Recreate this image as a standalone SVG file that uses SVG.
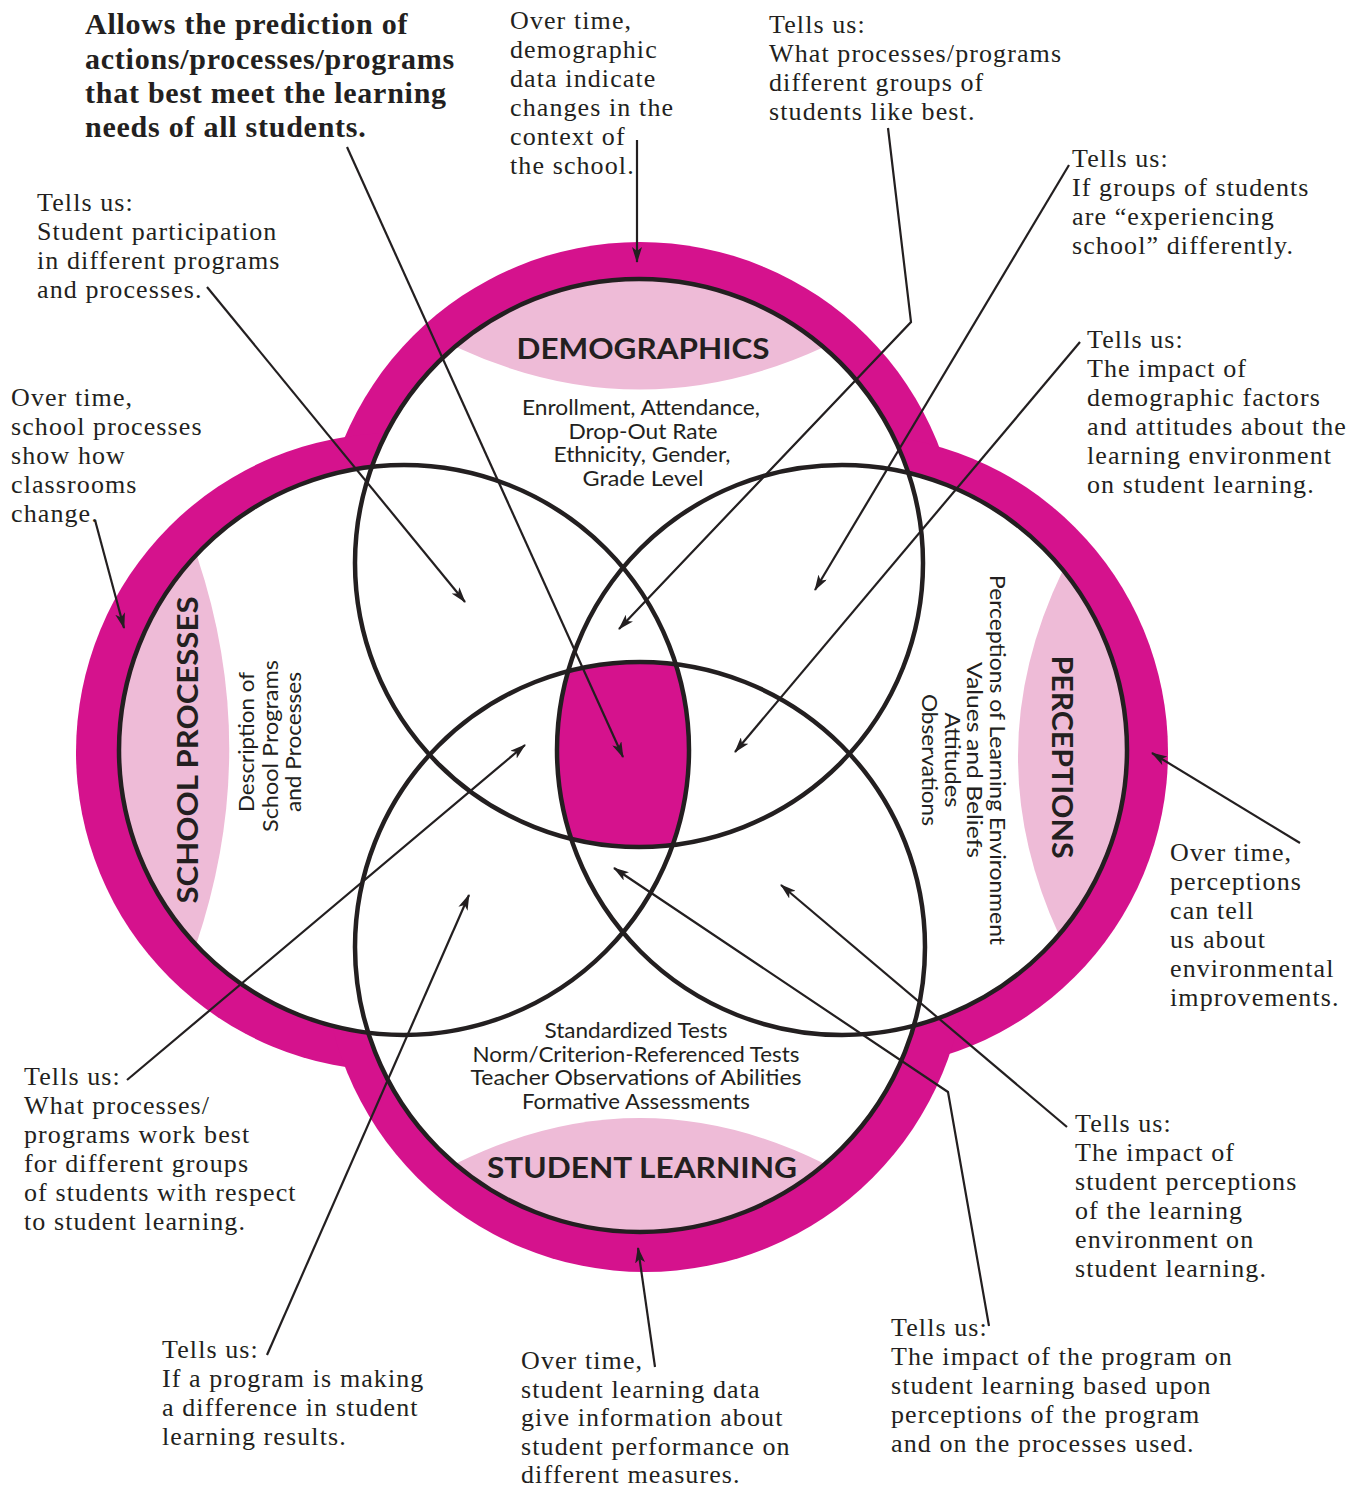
<svg xmlns="http://www.w3.org/2000/svg" width="1370" height="1490" viewBox="0 0 1370 1490">
<style>
.band{fill:#D5128D}
.inner{fill:#FFFFFF}
.lens{fill:#EEBBD7}
.ring{fill:none;stroke:#231F20;stroke-width:4.5}
.core{fill:#D5128D}
.note{font-family:"Liberation Serif","Times New Roman",serif;font-size:26px;letter-spacing:1.1px;fill:#231F20}
.title{font-family:"Liberation Serif","Times New Roman",serif;font-size:30px;font-weight:bold;letter-spacing:0.75px;fill:#231F20}
.head{font-family:Lato,"Liberation Sans",sans-serif;font-size:29px;font-weight:bold;fill:#231F20;text-anchor:middle}
.sub{font-family:Lato,"Liberation Sans",sans-serif;font-size:21px;fill:#231F20;text-anchor:middle}
.conn{fill:none;stroke:#231F20;stroke-width:2.2;marker-end:url(#ah)}
</style>
<defs>
<marker id="ah" viewBox="0 0 16 10" refX="15" refY="5" markerWidth="16" markerHeight="10" orient="auto" markerUnits="userSpaceOnUse">
<path d="M0,0 L16,5 L0,10 L4,5 Z" fill="#231F20"/>
</marker>
<clipPath id="cD"><circle cx="639" cy="563" r="284"/></clipPath>
<clipPath id="cS"><circle cx="404" cy="750" r="285"/></clipPath>
<clipPath id="cP"><circle cx="842" cy="750" r="285"/></clipPath>
</defs>
<rect width="1370" height="1490" fill="#FFFFFF"/>

<g id="outer-band">
<circle class="band" cx="640" cy="563" r="321"/>
<circle class="band" cx="395" cy="752" r="319"/>
<circle class="band" cx="850" cy="752" r="318"/>
<circle class="band" cx="645" cy="950" r="322"/>
<circle class="inner" cx="639" cy="563" r="284"/>
<circle class="inner" cx="404" cy="750" r="285"/>
<circle class="inner" cx="842" cy="750" r="285"/>
<circle class="inner" cx="640" cy="947" r="285"/>
</g>

<g id="demographics">
<path class="lens" d="M456,347 A284,284 0 0 1 824,347 Q640,432 456,347 Z"/>
<text class="head" x="643" y="359" textLength="253" lengthAdjust="spacingAndGlyphs">DEMOGRAPHICS</text>
<text class="sub" x="641" y="415" textLength="238" lengthAdjust="spacingAndGlyphs">Enrollment, Attendance,</text>
<text class="sub" x="643" y="439" textLength="149" lengthAdjust="spacingAndGlyphs">Drop-Out Rate</text>
<text class="sub" x="642" y="462" textLength="177" lengthAdjust="spacingAndGlyphs">Ethnicity, Gender,</text>
<text class="sub" x="643" y="486" textLength="121" lengthAdjust="spacingAndGlyphs">Grade Level</text>
</g>

<g id="school-processes">
<path class="lens" d="M197,556 A285,285 0 0 0 196,945 Q262,750 197,556 Z"/>
<text class="head" transform="translate(198,750) rotate(-90)" x="0" y="0" textLength="307" lengthAdjust="spacingAndGlyphs">SCHOOL PROCESSES</text>
<text class="sub" transform="translate(254,742) rotate(-90)" x="0" y="0" textLength="140" lengthAdjust="spacingAndGlyphs">Description of</text>
<text class="sub" transform="translate(278,746) rotate(-90)" x="0" y="0" textLength="172" lengthAdjust="spacingAndGlyphs">School Programs</text>
<text class="sub" transform="translate(301,742) rotate(-90)" x="0" y="0" textLength="140" lengthAdjust="spacingAndGlyphs">and Processes</text>
</g>

<g id="perceptions">
<path class="lens" d="M1063,570 A285,285 0 0 1 1059,935 Q975,752 1063,570 Z"/>
<text class="head" transform="translate(1052,757) rotate(90)" x="0" y="0" textLength="203" lengthAdjust="spacingAndGlyphs">PERCEPTIONS</text>
<text class="sub" transform="translate(990,760) rotate(90)" x="0" y="0" textLength="370" lengthAdjust="spacingAndGlyphs">Perceptions of Learning Environment</text>
<text class="sub" transform="translate(967,760) rotate(90)" x="0" y="0" textLength="196" lengthAdjust="spacingAndGlyphs">Values and Beliefs</text>
<text class="sub" transform="translate(945,760) rotate(90)" x="0" y="0" textLength="95" lengthAdjust="spacingAndGlyphs">Attitudes</text>
<text class="sub" transform="translate(922,760) rotate(90)" x="0" y="0" textLength="132" lengthAdjust="spacingAndGlyphs">Observations</text>
</g>

<g id="student-learning">
<path class="lens" d="M455,1164 A285,285 0 0 0 825,1164 Q640,1072 455,1164 Z"/>
<text class="head" x="642" y="1178" textLength="310" lengthAdjust="spacingAndGlyphs">STUDENT LEARNING</text>
<text class="sub" x="636" y="1038" textLength="183" lengthAdjust="spacingAndGlyphs">Standardized Tests</text>
<text class="sub" x="636" y="1062" textLength="327" lengthAdjust="spacingAndGlyphs">Norm/Criterion-Referenced Tests</text>
<text class="sub" x="636" y="1085" textLength="331" lengthAdjust="spacingAndGlyphs">Teacher Observations of Abilities</text>
<text class="sub" x="636" y="1109" textLength="228" lengthAdjust="spacingAndGlyphs">Formative Assessments</text>
</g>

<g id="center">
<g clip-path="url(#cD)"><g clip-path="url(#cS)"><g clip-path="url(#cP)">
<circle class="core" cx="640" cy="947" r="285"/>
</g></g></g>
</g>

<g id="rings">
<circle class="ring" cx="639" cy="563" r="284"/>
<circle class="ring" cx="404" cy="750" r="285"/>
<circle class="ring" cx="842" cy="750" r="285"/>
<circle class="ring" cx="640" cy="947" r="285"/>
</g>

<g id="note-title">
<text class="title" x="85" y="34">Allows the prediction of</text>
<text class="title" x="85" y="69">actions/processes/programs</text>
<text class="title" x="85" y="103">that best meet the learning</text>
<text class="title" x="85" y="137">needs of all students.</text>
</g>
<g id="note-demographics-time">
<text class="note" x="510" y="29">Over time,</text>
<text class="note" x="510" y="58">demographic</text>
<text class="note" x="510" y="87">data indicate</text>
<text class="note" x="510" y="116">changes in the</text>
<text class="note" x="510" y="145">context of</text>
<text class="note" x="510" y="174">the school.</text>
</g>
<g id="note-programs-like">
<text class="note" x="769" y="33">Tells us:</text>
<text class="note" x="769" y="62">What processes/programs</text>
<text class="note" x="769" y="91">different groups of</text>
<text class="note" x="769" y="120">students like best.</text>
</g>
<g id="note-experiencing">
<text class="note" x="1072" y="167">Tells us:</text>
<text class="note" x="1072" y="196">If groups of students</text>
<text class="note" x="1072" y="225">are “experiencing</text>
<text class="note" x="1072" y="254">school” differently.</text>
</g>
<g id="note-demographic-factors">
<text class="note" x="1087" y="348">Tells us:</text>
<text class="note" x="1087" y="377">The impact of</text>
<text class="note" x="1087" y="406">demographic factors</text>
<text class="note" x="1087" y="435">and attitudes about the</text>
<text class="note" x="1087" y="464">learning environment</text>
<text class="note" x="1087" y="493">on student learning.</text>
</g>
<g id="note-participation">
<text class="note" x="37" y="211">Tells us:</text>
<text class="note" x="37" y="240">Student participation</text>
<text class="note" x="37" y="269">in different programs</text>
<text class="note" x="37" y="298">and processes.</text>
</g>
<g id="note-classrooms">
<text class="note" x="11" y="406">Over time,</text>
<text class="note" x="11" y="435">school processes</text>
<text class="note" x="11" y="464">show how</text>
<text class="note" x="11" y="493">classrooms</text>
<text class="note" x="11" y="522">change.</text>
</g>
<g id="note-perceptions-time">
<text class="note" x="1170" y="861">Over time,</text>
<text class="note" x="1170" y="890">perceptions</text>
<text class="note" x="1170" y="919">can tell</text>
<text class="note" x="1170" y="948">us about</text>
<text class="note" x="1170" y="977">environmental</text>
<text class="note" x="1170" y="1006">improvements.</text>
</g>
<g id="note-work-best">
<text class="note" x="24" y="1085">Tells us:</text>
<text class="note" x="24" y="1114">What processes/</text>
<text class="note" x="24" y="1143">programs work best</text>
<text class="note" x="24" y="1172">for different groups</text>
<text class="note" x="24" y="1201">of students with respect</text>
<text class="note" x="24" y="1230">to student learning.</text>
</g>
<g id="note-student-perceptions">
<text class="note" x="1075" y="1132">Tells us:</text>
<text class="note" x="1075" y="1161">The impact of</text>
<text class="note" x="1075" y="1190">student perceptions</text>
<text class="note" x="1075" y="1219">of the learning</text>
<text class="note" x="1075" y="1248">environment on</text>
<text class="note" x="1075" y="1277">student learning.</text>
</g>
<g id="note-difference">
<text class="note" x="162" y="1358">Tells us:</text>
<text class="note" x="162" y="1387">If a program is making</text>
<text class="note" x="162" y="1416">a difference in student</text>
<text class="note" x="162" y="1445">learning results.</text>
</g>
<g id="note-learning-time">
<text class="note" x="521" y="1369">Over time,</text>
<text class="note" x="521" y="1397.5">student learning data</text>
<text class="note" x="521" y="1426">give information about</text>
<text class="note" x="521" y="1454.5">student performance on</text>
<text class="note" x="521" y="1483">different measures.</text>
</g>
<g id="note-program-impact">
<text class="note" x="891" y="1336">Tells us:</text>
<text class="note" x="891" y="1365">The impact of the program on</text>
<text class="note" x="891" y="1394">student learning based upon</text>
<text class="note" x="891" y="1423">perceptions of the program</text>
<text class="note" x="891" y="1452">and on the processes used.</text>
</g>

<g id="connectors">
<path class="conn" d="M347,147 L623,757"/>
<path class="conn" d="M637,140 L637,262"/>
<path class="conn" d="M888,128 L911,322 L619,629"/>
<path class="conn" d="M1069,165 L815,590"/>
<path class="conn" d="M1080,342 L735,752"/>
<path class="conn" d="M207,287 L465,602"/>
<path class="conn" d="M95,520 L124,628"/>
<path class="conn" d="M1300,843 L1152,753"/>
<path class="conn" d="M127,1080 L525,745"/>
<path class="conn" d="M267,1355 L469,895"/>
<path class="conn" d="M655,1367 L638,1248"/>
<path class="conn" d="M1067,1127 L781,885"/>
<path class="conn" d="M989,1326 L948,1092 L614,868"/>
</g>
</svg>
